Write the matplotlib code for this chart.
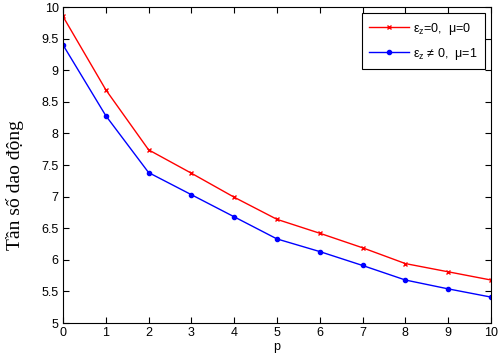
import matplotlib
matplotlib.use("Agg")
import matplotlib.pyplot as plt
import numpy as np

p = np.arange(0, 11)
freq_case1 = [9.85, 8.69, 7.74, 7.37, 6.99, 6.64, 6.42, 6.19, 5.94, 5.81, 5.68]
freq_case2 = [9.40, 8.28, 7.38, 7.03, 6.68, 6.33, 6.13, 5.91, 5.68, 5.54, 5.41]
labels = [r"ε$_z$=0,  μ=0", r"ε$_z$ ≠ 0,  μ=1"]

plt.rcParams['font.family'] = ['Liberation Sans', 'DejaVu Sans']
plt.rcParams['mathtext.default'] = 'regular'

fig = plt.figure(figsize=(5.02, 3.56), dpi=100)
ax = fig.add_axes([63 / 502, 1 - 323 / 356, (491 - 63) / 502, (323 - 7) / 356])

ax.plot(p, freq_case1, color='red', marker='x', markersize=3.5, markeredgewidth=1,
        linewidth=1, label=labels[0])
ax.plot(p, freq_case2, color='blue', marker='o', markersize=3, linewidth=1, label=labels[1])

ax.set_xlim(0, 10)
ax.set_ylim(5, 10)
ax.set_xticks(range(0, 11))
ax.set_yticks(np.arange(5, 10.01, 0.5))
ax.set_yticklabels(['5', '5.5', '6', '6.5', '7', '7.5', '8', '8.5', '9', '9.5', '10'])
ax.tick_params(direction='in', top=True, right=True, labelsize=9, length=4, pad=3)
ax.set_xlabel('p', fontsize=9, labelpad=1)
ax.set_ylabel('Tần số dao động', fontsize=14, family=['Liberation Serif', 'DejaVu Serif'])
ax.yaxis.set_label_coords(-0.09, 0.435)

leg = ax.legend(loc='upper right', fontsize=9, fancybox=False, edgecolor='black',
                framealpha=1, borderaxespad=0.5, handlelength=3.2, handletextpad=0.3,
                labelspacing=0.7, borderpad=0.6)
leg.get_frame().set_linewidth(0.8)

fig.savefig('out.png', dpi=100)
